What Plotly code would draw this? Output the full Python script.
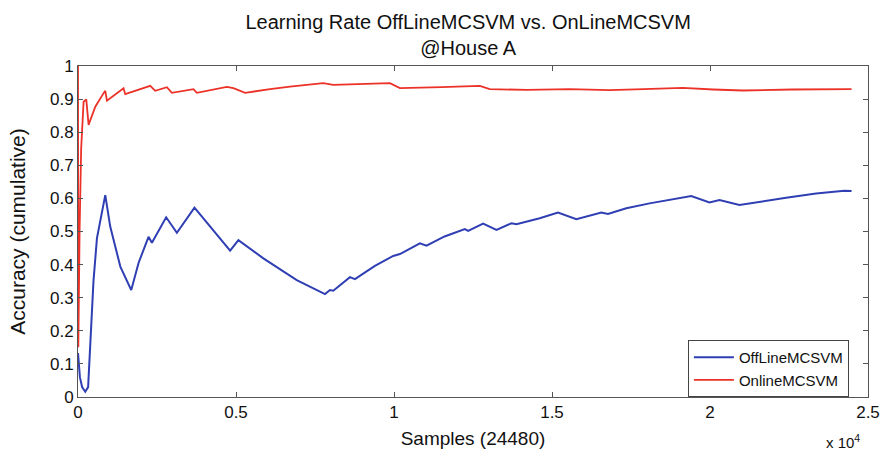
import plotly.graph_objects as go

# OffLineMCSVM (blue) - samples vs cumulative accuracy
off_x = [0, 60, 130, 230, 320, 400, 490, 600, 863, 1020, 1340, 1685, 1916, 2232, 2339,
         2790, 3129, 3686, 4814, 5076, 5866, 6922, 7816, 7974, 8078, 8606, 8764, 9396,
         9975, 10187, 10819, 11030, 11600, 12241, 12346, 12820, 13243, 13717, 13875,
         14611, 15190, 15771, 16561, 16771, 17351, 18088, 18616, 19406, 19984, 20300,
         20932, 21669, 22408, 23356, 24251, 24480]
off_y = [0.133, 0.06, 0.03, 0.016, 0.03, 0.2, 0.35, 0.48, 0.61, 0.515, 0.394, 0.323, 0.405,
         0.484, 0.466, 0.543, 0.496, 0.572, 0.442, 0.474, 0.419, 0.353, 0.311, 0.323,
         0.321, 0.362, 0.356, 0.396, 0.426, 0.432, 0.464, 0.457, 0.485, 0.507, 0.502,
         0.524, 0.505, 0.525, 0.522, 0.540, 0.557, 0.537, 0.557, 0.553, 0.570, 0.585,
         0.593, 0.607, 0.588, 0.595, 0.580, 0.592, 0.602, 0.615, 0.623, 0.622]

# OnlineMCSVM (red)
on_x = [0, 10, 50, 100, 177, 262, 335, 547, 810, 863, 916, 1441, 1495, 2285, 2443, 2813,
        2971, 3654, 3761, 4709, 4918, 5288, 6078, 6710, 7762, 8078, 9870, 10187, 11500,
        12715, 13031, 14200, 15559, 16823, 17900, 19140, 20100, 21037, 22600, 24197, 24480]
on_y = [1.0, 0.15, 0.5, 0.75, 0.892, 0.899, 0.822, 0.877, 0.918, 0.925, 0.895, 0.933,
        0.915, 0.940, 0.925, 0.936, 0.919, 0.930, 0.919, 0.937, 0.933, 0.919, 0.930,
        0.938, 0.948, 0.943, 0.948, 0.933, 0.936, 0.940, 0.930, 0.928, 0.930, 0.927,
        0.930, 0.934, 0.929, 0.926, 0.929, 0.931, 0.930]

x_tickvals = [0, 5000, 10000, 15000, 20000, 25000]
x_ticktext = ["0", "0.5", "1", "1.5", "2", "2.5"]
y_tickvals = [0, 0.1, 0.2, 0.3, 0.4, 0.5, 0.6, 0.7, 0.8, 0.9, 1]
y_ticktext = ["0", "0.1", "0.2", "0.3", "0.4", "0.5", "0.6", "0.7", "0.8", "0.9", "1"]

font_family = "Liberation Sans, Arial, sans-serif"

fig = go.Figure()
fig.add_trace(go.Scatter(x=off_x, y=off_y, mode="lines", name="OffLineMCSVM",
                         line=dict(color="#2f3fb3", width=2)))
fig.add_trace(go.Scatter(x=on_x, y=on_y, mode="lines", name="OnlineMCSVM",
                         line=dict(color="#ec3228", width=1.8)))

axis_common = dict(showgrid=False, zeroline=False, showline=True, linecolor="#555",
                   linewidth=1, mirror="ticks", ticks="inside", ticklen=5,
                   tickcolor="#555", automargin=False,
                   tickfont=dict(size=17, color="#111", family=font_family))

fig.update_layout(
    width=880, height=464,
    margin=dict(l=78, r=12, t=66, b=67),
    paper_bgcolor="white", plot_bgcolor="white",
    font=dict(family=font_family, color="#111"),
    title=dict(text="Learning Rate OffLineMCSVM vs. OnLineMCSVM<br>@House A",
               x=0.532, xanchor="center", y=0.938, yanchor="middle",
               font=dict(size=20, family=font_family, color="#111")),
    xaxis=dict(range=[0, 25000], tickvals=x_tickvals, ticktext=x_ticktext,
               title=dict(text="Samples (24480)", font=dict(size=19, family=font_family),
                          standoff=10), **axis_common),
    yaxis=dict(range=[0, 1], tickvals=y_tickvals, ticktext=y_ticktext,
               title=dict(text="Accuracy (cumulative)", font=dict(size=21, family=font_family),
                          standoff=18), **axis_common),
    legend=dict(x=0.772, y=0.172, xanchor="left", yanchor="top",
                bgcolor="white", bordercolor="#444", borderwidth=1,
                font=dict(size=15, family=font_family, color="#111"),
                tracegroupgap=0, itemwidth=40),
    annotations=[dict(text="x 10<sup>4</sup>", xref="paper", yref="paper",
                      x=0.968, y=-0.10, xanchor="center", yanchor="top", showarrow=False,
                      font=dict(size=15, family=font_family, color="#111"))],
)

fig.write_html("out.html")
